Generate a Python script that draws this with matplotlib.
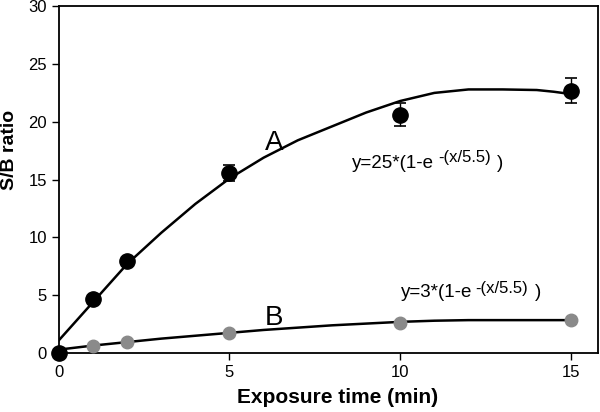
import matplotlib
matplotlib.use("Agg")
import matplotlib.pyplot as plt

plt.rcParams['font.family'] = ['Liberation Sans', 'DejaVu Sans']

# measured points
time_pts = [0, 1, 2, 5, 10, 15]
sb_a = [0.0, 4.65, 8.0, 15.6, 20.6, 22.7]
sb_a_err = [0, 0, 0, 0.7, 1.0, 1.1]
sb_b = [0.0, 0.6, 0.95, 1.7, 2.6, 2.85]
sb_b_err = [0, 0, 0, 0, 0.3, 0.35]

# fitted curves as drawn
fit_a_x = [0, 1, 2, 3, 4, 5, 6, 7, 8, 9, 10, 11, 12, 13, 14, 14.5, 15]
fit_a_y = [1.1, 4.4, 7.7, 10.4, 12.9, 15.1, 16.9, 18.4, 19.6, 20.8, 21.8,
           22.5, 22.8, 22.8, 22.75, 22.6, 22.4]
fit_b_x = [0, 1, 2, 3, 4, 5, 6, 7, 8, 9, 10, 11, 12, 13, 14, 15]
fit_b_y = [0.3, 0.65, 0.95, 1.25, 1.5, 1.75, 2.0, 2.2, 2.4, 2.55, 2.7, 2.8,
           2.85, 2.85, 2.85, 2.85]


def equation(ax, x, y, head, sup_dx, close_dx, sup_dy):
    # main part, superscript and closing paren placed one after the other
    ax.text(x, y, head, fontsize=13.5, ha='left', va='center')
    ax.annotate("-(x/5.5)", xy=(x, y), xytext=(sup_dx, sup_dy),
                textcoords='offset points', fontsize=12, ha='left',
                va='center')
    ax.annotate(")", xy=(x, y), xytext=(close_dx, 0),
                textcoords='offset points', fontsize=13.5, ha='left',
                va='center')


fig = plt.figure(figsize=(6.0, 4.12), dpi=100)
ax = fig.add_axes([0.098, 0.143, 0.899, 0.842])

ax.plot(fit_a_x, fit_a_y, color='black', lw=1.8, zorder=3)
ax.plot(fit_b_x, fit_b_y, color='black', lw=1.8, zorder=3)

ax.errorbar(time_pts, sb_b, yerr=sb_b_err, fmt='o', color='#8a8a8a',
            ms=9, ecolor='black', elinewidth=0.8, capsize=3.5, capthick=0.8,
            linestyle='none', zorder=4, clip_on=False)
ax.errorbar(time_pts, sb_a, yerr=sb_a_err, fmt='o', color='black',
            ms=11, ecolor='black', elinewidth=1.0, capsize=4, capthick=1.2,
            linestyle='none', zorder=5, clip_on=False)

ax.text(6.3, 18.15, "A", fontsize=20, ha='center', va='center')
ax.text(6.3, 3.0, "B", fontsize=20, ha='center', va='center')
equation(ax, 8.6, 16.4, "y=25*(1-e", 62, 104, 4.5)
equation(ax, 10.03, 5.2, "y=3*(1-e", 53, 96, 3)

ax.set_xlim(0, 15.8)
ax.set_ylim(0, 30)
ax.set_xticks([0, 5, 10, 15])
ax.set_yticks([0, 5, 10, 15, 20, 25, 30])
ax.tick_params(direction='out', length=5, width=1.0, labelsize=12,
               top=False, right=False)
for side in ax.spines.values():
    side.set_linewidth(1.3)

ax.set_xlabel("Exposure time (min)", fontsize=15, fontweight='bold')
ax.set_ylabel("S/B ratio", fontsize=14, fontweight='bold')
ax.xaxis.set_label_coords(0.516, -0.127)
ax.yaxis.set_label_coords(-0.091, 0.585)
ax.xaxis.label.set_va('center')
ax.yaxis.label.set_va('center')

fig.savefig("out.png", dpi=100)
